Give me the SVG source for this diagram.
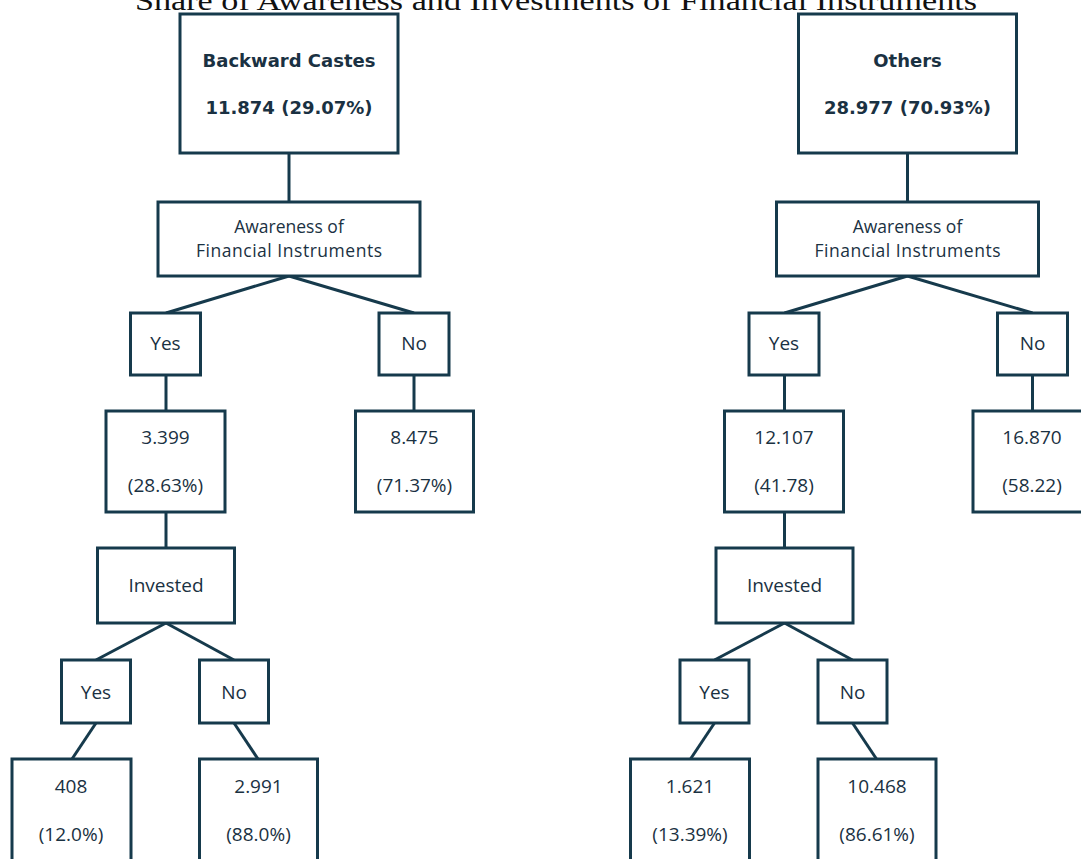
<svg xmlns="http://www.w3.org/2000/svg" width="1081" height="859" viewBox="0 0 1081 859">
<style>
.box{fill:#ffffff;stroke:#163a4c;stroke-width:3}
.t{font-family:"Open Sans","DejaVu Sans",sans-serif;font-size:19px;fill:#1a3142;text-anchor:middle}
.a{font-family:"Open Sans","DejaVu Sans",sans-serif;font-size:17.5px;fill:#1a3142;text-anchor:middle}
.b{font-family:"DejaVu Sans","Open Sans",sans-serif;font-size:18px;font-weight:bold;fill:#1a3142;text-anchor:middle}
.title{font-family:"Liberation Serif",serif;font-size:28px;fill:#111111;text-anchor:middle}
#connectors line{stroke:#163a4c;stroke-width:3}
</style>
<rect x="0" y="0" width="1081" height="859" fill="#ffffff"/>
<text class="title" x="556" y="10" textLength="842" lengthAdjust="spacingAndGlyphs">Share of Awareness and Investments of Financial Instruments</text>
<g id="connectors">
<line x1="289" y1="153" x2="289" y2="202"/>
<line x1="289" y1="276" x2="166" y2="313"/>
<line x1="289" y1="276" x2="414" y2="313"/>
<line x1="166" y1="375" x2="166" y2="411"/>
<line x1="414" y1="375" x2="414" y2="411"/>
<line x1="166" y1="512" x2="166" y2="548"/>
<line x1="166" y1="623" x2="96" y2="660"/>
<line x1="166" y1="623" x2="234" y2="660"/>
<line x1="96" y1="723" x2="72" y2="759"/>
<line x1="234" y1="723" x2="258" y2="759"/>
<line x1="907.5" y1="153" x2="907.5" y2="202"/>
<line x1="907.5" y1="276" x2="784.5" y2="313"/>
<line x1="907.5" y1="276" x2="1032.5" y2="313"/>
<line x1="784.5" y1="375" x2="784.5" y2="411"/>
<line x1="1032.5" y1="375" x2="1032.5" y2="411"/>
<line x1="784.5" y1="512" x2="784.5" y2="548"/>
<line x1="784.5" y1="623" x2="714.5" y2="660"/>
<line x1="784.5" y1="623" x2="852.5" y2="660"/>
<line x1="714.5" y1="723" x2="690.5" y2="759"/>
<line x1="852.5" y1="723" x2="876.5" y2="759"/>
</g>
<g id="bc-root"><rect class="box" x="180" y="14" width="218" height="139"/><text class="b" x="289" y="67">Backward Castes</text><text class="b" x="289" y="114">11.874 (29.07%)</text></g>
<g id="bc-awareness"><rect class="box" x="158" y="202" width="262" height="74"/><text class="a" x="289" y="233">Awareness of</text><text class="a" x="289" y="257" textLength="186">Financial Instruments</text></g>
<g id="bc-aware-yes"><rect class="box" x="130.5" y="313" width="70" height="62"/><text class="t" x="165.5" y="350">Yes</text></g>
<g id="bc-aware-no"><rect class="box" x="379" y="313" width="70" height="62"/><text class="t" x="414" y="350">No</text></g>
<g id="bc-aware-yes-val"><rect class="box" x="106" y="411" width="119" height="101"/><text class="t" x="165.5" y="444">3.399</text><text class="t" x="165.5" y="492">(28.63%)</text></g>
<g id="bc-aware-no-val"><rect class="box" x="355.5" y="411" width="118" height="101"/><text class="t" x="414.5" y="444">8.475</text><text class="t" x="414.5" y="492">(71.37%)</text></g>
<g id="bc-invested"><rect class="box" x="97.5" y="548" width="137" height="75"/><text class="t" x="166" y="592">Invested</text></g>
<g id="bc-inv-yes"><rect class="box" x="61.5" y="660" width="69" height="63"/><text class="t" x="96" y="699">Yes</text></g>
<g id="bc-inv-no"><rect class="box" x="199.5" y="660" width="69" height="63"/><text class="t" x="234" y="699">No</text></g>
<g id="bc-inv-yes-val"><rect class="box" x="12" y="759" width="119" height="110"/><text class="t" x="71" y="793">408</text><text class="t" x="71" y="841">(12.0%)</text></g>
<g id="bc-inv-no-val"><rect class="box" x="199.5" y="759" width="118" height="110"/><text class="t" x="258.5" y="793">2.991</text><text class="t" x="258.5" y="841">(88.0%)</text></g>
<g id="ot-root"><rect class="box" x="798.5" y="14" width="218" height="139"/><text class="b" x="907.5" y="67">Others</text><text class="b" x="907.5" y="114">28.977 (70.93%)</text></g>
<g id="ot-awareness"><rect class="box" x="776.5" y="202" width="262" height="74"/><text class="a" x="907.5" y="233">Awareness of</text><text class="a" x="907.5" y="257" textLength="186">Financial Instruments</text></g>
<g id="ot-aware-yes"><rect class="box" x="749" y="313" width="70" height="62"/><text class="t" x="784" y="350">Yes</text></g>
<g id="ot-aware-no"><rect class="box" x="997.5" y="313" width="70" height="62"/><text class="t" x="1032.5" y="350">No</text></g>
<g id="ot-aware-yes-val"><rect class="box" x="724.5" y="411" width="119" height="101"/><text class="t" x="784" y="444">12.107</text><text class="t" x="784" y="492">(41.78)</text></g>
<g id="ot-aware-no-val"><rect class="box" x="973" y="411" width="118" height="101"/><text class="t" x="1032" y="444">16.870</text><text class="t" x="1032" y="492">(58.22)</text></g>
<g id="ot-invested"><rect class="box" x="716" y="548" width="137" height="75"/><text class="t" x="784.5" y="592">Invested</text></g>
<g id="ot-inv-yes"><rect class="box" x="680" y="660" width="69" height="63"/><text class="t" x="714.5" y="699">Yes</text></g>
<g id="ot-inv-no"><rect class="box" x="818" y="660" width="69" height="63"/><text class="t" x="852.5" y="699">No</text></g>
<g id="ot-inv-yes-val"><rect class="box" x="630.5" y="759" width="119" height="110"/><text class="t" x="690" y="793">1.621</text><text class="t" x="690" y="841">(13.39%)</text></g>
<g id="ot-inv-no-val"><rect class="box" x="818" y="759" width="118" height="110"/><text class="t" x="877" y="793">10.468</text><text class="t" x="877" y="841">(86.61%)</text></g>
</svg>
